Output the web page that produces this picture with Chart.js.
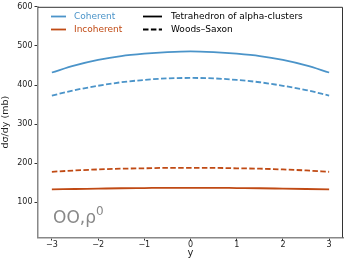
<!DOCTYPE html>
<html>
<head>
<meta charset="utf-8">
<script src="https://cdn.jsdelivr.net/npm/chart.js@4/dist/chart.umd.min.js"></script>
<style>
  html, body { margin: 0; padding: 0; background: #fff; }
  #wrap { width: 344px; height: 264px; }
</style>
</head>
<body>
<div id="wrap"><canvas id="myChart" width="344" height="264"></canvas></div>
<script>
const rapidity = [-3, -2.5, -2, -1.5, -1, -0.5, 0, 0.5, 1, 1.5, 2, 2.5, 3];
const cohTetra = [432, 450, 464, 474, 480, 484, 486, 484, 480, 474, 464, 450, 432];
const cohWS = [373, 387, 398, 407, 413, 417, 418, 417, 413, 407, 398, 387, 373];
const incohTetra = [133, 134, 135, 136, 136.5, 137, 137, 137, 136.5, 136, 135, 134, 133];
const incohWS = [178, 181.5, 184, 186, 187, 188, 188, 188, 187, 186, 184, 181.5, 178];
const xTicks = [-3, -2, -1, 0, 1, 2, 3];
const yTicks = [100, 200, 300, 400, 500, 600];

const blue = "#4b94c9";
const orange = "#c04a14";
const font = "DejaVu Sans";
const dash = [5.5, 2.4];

function pts(vals) {
  return rapidity.map((x, i) => ({ x: x, y: vals[i] }));
}

const legendPlugin = {
  id: "customLegend",
  afterDraw(chart) {
    const c = chart.ctx;
    const a = chart.chartArea;
    c.save();
    // top / right spines
    c.strokeStyle = "#333";
    c.lineWidth = 1;
    c.beginPath();
    c.moveTo(a.left, a.top + 0.5);
    c.lineTo(a.right - 0.5, a.top + 0.5);
    c.lineTo(a.right - 0.5, a.bottom);
    c.stroke();

    c.font = "9px '" + font + "'";
    c.textBaseline = "middle";
    c.lineWidth = 1.8;
    const rows = [16.5, 29.5];
    const col1 = [
      { label: "Coherent", color: blue },
      { label: "Incoherent", color: orange },
    ];
    col1.forEach((it, i) => {
      c.strokeStyle = it.color;
      c.setLineDash([]);
      c.beginPath();
      c.moveTo(51, rows[i]);
      c.lineTo(66, rows[i]);
      c.stroke();
      c.fillStyle = it.color;
      c.fillText(it.label, 74, rows[i] + 0.5);
    });
    const col2 = [
      { label: "Tetrahedron of alpha-clusters", d: [] },
      { label: "Woods\u2013Saxon", d: dash },
    ];
    col2.forEach((it, i) => {
      c.strokeStyle = "#000";
      c.setLineDash(it.d);
      c.beginPath();
      c.moveTo(143, rows[i]);
      c.lineTo(162, rows[i]);
      c.stroke();
      c.fillStyle = "#000";
      c.fillText(it.label, 171, rows[i] + 0.5);
    });
    c.setLineDash([]);

    // annotation
    c.fillStyle = "#888";
    c.textBaseline = "alphabetic";
    c.font = "17px '" + font + "'";
    c.fillText("OO,\u03c1", 53, 223);
    const w = c.measureText("OO,\u03c1").width;
    c.font = "12px '" + font + "'";
    c.fillText("0", 53 + w, 215);
    c.restore();
  },
};

const ctx = document.getElementById("myChart").getContext("2d");

const myChart = new Chart(ctx, {
  type: "line",
  data: {
    datasets: [
      { label: "Coherent, tetrahedron", data: pts(cohTetra), borderColor: blue },
      { label: "Coherent, Woods-Saxon", data: pts(cohWS), borderColor: blue, borderDash: dash },
      { label: "Incoherent, tetrahedron", data: pts(incohTetra), borderColor: orange },
      { label: "Incoherent, Woods-Saxon", data: pts(incohWS), borderColor: orange, borderDash: dash },
    ],
  },
  options: {
    responsive: false,
    animation: false,
    layout: { padding: { top: 3, right: 1, left: 0, bottom: 0 } },
    elements: {
      point: { radius: 0 },
      line: { borderWidth: 1.8, tension: 0.4, cubicInterpolationMode: "monotone" },
    },
    plugins: {
      legend: { display: false },
      tooltip: { enabled: false },
    },
    scales: {
      x: {
        type: "linear",
        min: -3.3,
        max: 3.3,
        afterBuildTicks: (s) => { s.ticks = xTicks.map((v) => ({ value: v })); },
        afterFit: (s) => { s.height = 26.5; },
        ticks: {
          color: "#222",
          font: { family: font, size: 8 },
          padding: 0,
          maxRotation: 0,
          callback: (v) => (v < 0 ? "\u2212" + Math.abs(v) : String(v)),
        },
        grid: { drawOnChartArea: false, drawTicks: true, tickLength: 3, color: "#333" },
        border: { color: "#888", width: 1.5 },
        title: {
          display: true,
          text: "y",
          color: "#222",
          font: { family: font, size: 10 },
          padding: { top: 0, bottom: 5 },
        },
      },
      y: {
        type: "linear",
        min: 10,
        max: 600,
        afterBuildTicks: (s) => { s.ticks = yTicks.map((v) => ({ value: v })); },
        afterFit: (s) => { s.width = 38; },
        ticks: {
          color: "#222",
          font: { family: font, size: 8 },
          padding: 2,
        },
        grid: { drawOnChartArea: false, drawTicks: true, tickLength: 3.5, color: "#333" },
        border: { color: "#888", width: 1.5 },
        title: {
          display: true,
          text: "d\u03c3/dy (mb)",
          color: "#222",
          font: { family: font, size: 9.5 },
          padding: { top: 0, bottom: 0 },
        },
      },
    },
  },
  plugins: [legendPlugin],
});
</script>
</body>
</html>
